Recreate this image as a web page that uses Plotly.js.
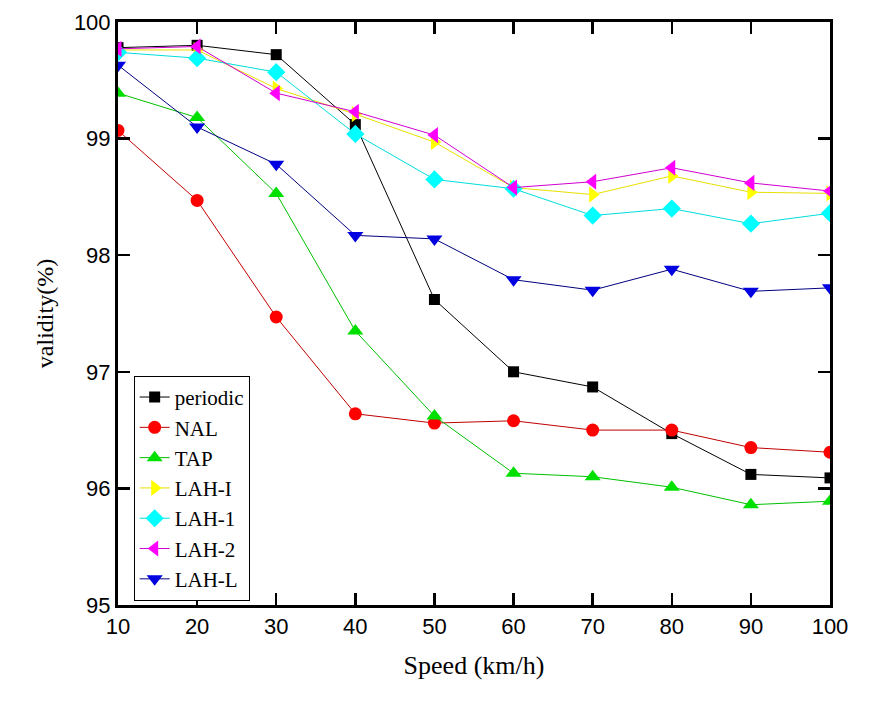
<!DOCTYPE html>
<html>
<head>
<meta charset="utf-8">
<script src="https://cdn.plot.ly/plotly-3.0.1.min.js"></script>
<style>html,body{margin:0;padding:0;background:#fff;}#chart{width:880px;height:702px;}</style>
</head>
<body>
<div id="chart"></div>
<script>
const speed = [10, 20, 30, 40, 50, 60, 70, 80, 90, 100];
const periodic = [99.78, 99.80, 99.72, 99.12, 97.62, 97.00, 96.87, 96.47, 96.12, 96.09];
const nal = [99.07, 98.47, 97.47, 96.64, 96.56, 96.58, 96.50, 96.50, 96.35, 96.31];
const tap = [99.39, 99.18, 98.53, 97.35, 96.62, 96.13, 96.10, 96.01, 95.86, 95.89];
const lahI = [99.76, 99.76, 99.43, 99.21, 98.97, 98.58, 98.52, 98.68, 98.54, 98.53];
const lah1 = [99.74, 99.69, 99.57, 99.04, 98.65, 98.57, 98.34, 98.40, 98.27, 98.36];
const lah2 = [99.77, 99.79, 99.39, 99.23, 99.03, 98.58, 98.63, 98.75, 98.62, 98.55];
const lahL = [99.63, 99.10, 98.78, 98.17, 98.14, 97.79, 97.70, 97.88, 97.69, 97.72];

const seriesNames = ['periodic', 'NAL', 'TAP', 'LAH-I', 'LAH-1', 'LAH-2', 'LAH-L'];
const seriesData = [periodic, nal, tap, lahI, lah1, lah2, lahL];
const colors = ['#000000', '#ff0000', '#00e000', '#ffff00', '#00ffff', '#ff00ff', '#0000e0'];
const lineColors = ['#000000', '#c00000', '#00c000', '#e8e000', '#00dddd', '#d000d0', '#000080'];
const symbols = ['square', 'circle', 'triangle-up', 'triangle-right', 'diamond', 'triangle-left', 'triangle-down'];
const sizes = [11, 13, 14, 14, 14, 14, 14];

const traces = seriesNames.map((n, i) => ({
  x: speed, y: seriesData[i], name: n, type: 'scatter', mode: 'lines+markers',
  line: {color: lineColors[i], width: 1},
  marker: {symbol: symbols[i], size: sizes[i], color: colors[i], line: {width: 0}}
}));

const tickFont = 'Liberation Sans Narrow, Arial Narrow, Liberation Sans, sans-serif';
const serif = 'Liberation Serif, Times New Roman, serif';

const layout = {
  width: 880, height: 702,
  margin: {l: 118, r: 50, t: 22, b: 97},
  paper_bgcolor: '#fff', plot_bgcolor: '#fff',
  showlegend: true,
  legend: {
    x: 0.022, y: 0.393, xanchor: 'left', yanchor: 'top',
    bgcolor: '#fff', bordercolor: '#000', borderwidth: 1,
    font: {family: serif, size: 21, color: '#000'},
    tracegroupgap: 0
  },
  xaxis: {
    range: [10, 100], tickvals: speed, ticktext: speed.map(String),
    ticks: 'inside', ticklen: 12, tickwidth: 2.5, tickcolor: '#000',
    showline: true, linewidth: 3, linecolor: '#000', mirror: 'ticks',
    showgrid: false, zeroline: false,
    tickfont: {family: tickFont, size: 22, color: '#000'},
    title: {text: 'Speed (km/h)', font: {family: serif, size: 26, color: '#000'}, standoff: 18}
  },
  yaxis: {
    range: [95, 100], tickvals: [95, 96, 97, 98, 99, 100],
    ticks: 'inside', ticklen: 12, tickwidth: 2.5, tickcolor: '#000',
    showline: true, linewidth: 3, linecolor: '#000', mirror: 'ticks',
    showgrid: false, zeroline: false,
    tickfont: {family: tickFont, size: 22, color: '#000'},
    title: {text: 'validity(%)', font: {family: serif, size: 24, color: '#000'}, standoff: 14}
  }
};

Plotly.newPlot('chart', traces, layout, {displayModeBar: false, staticPlot: true});
</script>
</body>
</html>
